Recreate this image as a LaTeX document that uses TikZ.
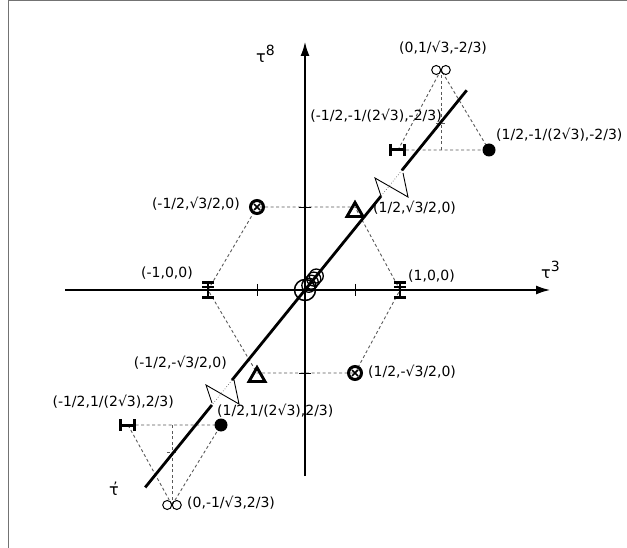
\documentclass[tikz,border=0pt]{standalone}
\usepackage{fontspec}
\setmainfont{DejaVu Sans}
\usetikzlibrary{arrows.meta}
\begin{document}
\begin{tikzpicture}[x=1pt,y=-1pt,
  lab/.style={font=\fontsize{14}{16}\selectfont, inner sep=0pt},
  taulab/.style={font=\fontsize{16}{18}\selectfont, inner sep=0pt},
  guide/.style={draw=black!65, dash pattern=on 3pt off 2.5pt, line width=0.9pt},
  axisline/.style={line width=2.6pt, -{Latex[length=15pt,width=9pt]}},
  tauline/.style={line width=2.8pt},
  thinline/.style={line width=0.9pt},
  ibv/.pic={\draw[line width=2.8pt] (0,-9)--(0,9) (-6,-7.5)--(6,-7.5) (-6,-3)--(6,-3) (-6,7.5)--(6,7.5);},
  ibh/.pic={\draw[line width=3pt] (-9,0)--(8,0) (-7.5,-6)--(-7.5,6) (6,-6)--(6,6);},
  infty/.pic={\draw[line width=1pt] (-4.8,0) circle (4.5) (4.8,0) circle (4.5);},
  bdot/.pic={\fill (0,0) circle (6.5);},
  otri/.pic={\draw[line width=2.9pt, line join=miter] (-8,6.5) -- (8,6.5) -- (0,-7.5) -- cycle;},
  ocross/.pic={\draw[line width=3pt] (0,0) circle (6.5);
               \draw[line width=1.5pt] (-3,-3)--(3,3) (-3,3)--(3,-3);},
  zig/.pic={\draw[thinline] (-10,10)--(-16,-8)--(17,11)--(12,-13);}
]
\useasboundingbox (0,0) rectangle (627,548);
% frame
\draw[black!55, line width=1pt] (8,548) -- (8,0.5) -- (627,0.5);

% coordinates
\coordinate (O) at (305,290);
\coordinate (A1) at (400,290);   % (1,0,0)
\coordinate (Am1) at (208,290);  % (-1,0,0)
\coordinate (TR) at (355,207);   % (1/2,sqrt3/2,0)
\coordinate (TL) at (257,207);   % (-1/2,sqrt3/2,0)
\coordinate (BR) at (355,373);   % (1/2,-sqrt3/2,0)
\coordinate (BL) at (257,373);   % (-1/2,-sqrt3/2,0)
\coordinate (UI) at (441,70);    % upper infinity
\coordinate (UH) at (398,150);
\coordinate (UD) at (489,150);
\coordinate (UM) at (441,150);
\coordinate (UC) at (441,123);
\coordinate (LI) at (172,505);
\coordinate (LH) at (128,425);
\coordinate (LD) at (221,425);
\coordinate (LM) at (172,425);
\coordinate (LC) at (172,452);

% hexagon guides
\draw[guide] (Am1) -- (TL) -- (TR) -- (A1) -- (BR) -- (BL) -- cycle;
% upper triangle guides
\draw[guide] (UI) -- (UH) -- (UD) -- cycle;
\draw[guide] (UI) -- (UM);
\draw[guide] ([xshift=-5pt]UC) -- ([xshift=5pt]UC);
% lower triangle guides
\draw[guide] (LI) -- (LH) -- (LD) -- cycle;
\draw[guide] (LI) -- (LM);
\draw[guide] ([xshift=-5pt]LC) -- ([xshift=5pt]LC);

% axes
\coordinate (X0) at (65,290);
\coordinate (X1) at (551,290);
\coordinate (Y0) at (305,476);
\coordinate (Y1) at (305,41);
\draw[axisline] (X0) -- (X1);
\draw[axisline] (Y0) -- (Y1);
% ticks
\draw[thinline] (257,284) -- (257,296);
\draw[thinline] (355,284) -- (355,296);
\draw[thinline] (299,207) -- (311,207);
\draw[thinline] (299,373) -- (311,373);

% tau' line with breaks
\coordinate (T1) at (466.7,90.3);
\coordinate (T2) at (401.9,170.3);
\coordinate (T3) at (381.1,196.0);
\coordinate (T4) at (232.0,380.1);
\coordinate (T5) at (211.9,405.0);
\coordinate (T6) at (145.2,487.4);
\draw[tauline] (T1) -- (T2);
\draw[tauline] (T3) -- (T4);
\draw[tauline] (T5) -- (T6);
\draw[black!60, line width=0.7pt, dotted] (T2) -- (T3);
\draw[black!60, line width=0.7pt, dotted] (T4) -- (T5);
\pic at (391,186) {zig};
\pic at (222,393) {zig};

% origin circles
\draw[line width=1.5pt] (O) circle (10.5);
\foreach \p in {(308.8,285.3),(311.3,282.2),(313.8,279.1),(316.3,276.0)}
  \draw[line width=1.3pt] \p circle (7);

% markers
\pic at (A1) {ibv};
\pic at (Am1) {ibv};
\pic at (355,210) {otri};
\pic at (257,375) {otri};
\pic at (TL) {ocross};
\pic at (BR) {ocross};
\pic at (UI) {infty};
\pic at (LI) {infty};
\pic at (UH) {ibh};
\pic at (LH) {ibh};
\pic at (UD) {bdot};
\pic at (LD) {bdot};

% axis labels
\node[taulab, anchor=base west] (t8) at (256,63) {τ\raisebox{7pt}{\fontsize{14}{16}\selectfont 8}};
\node[taulab, anchor=base west] (t3) at (541,279) {τ\raisebox{7pt}{\fontsize{14}{16}\selectfont 3}};
\node[taulab, anchor=base west] (tp) at (109,495) {τ\kern-5.5pt\raisebox{4pt}{\fontsize{13}{15}\selectfont\char"0027}};

% point labels
\node[lab, anchor=base west] (l1) at (399,53) {(0,1/√3,-2/3)};
\node[lab, anchor=base east] (l2) at (442,121) {(-1/2,-1/(2√3),-2/3)};
\node[lab, anchor=base west] (l3) at (496,140) {(1/2,-1/(2√3),-2/3)};
\node[lab, anchor=base east] (l4) at (240,209) {(-1/2,√3/2,0)};
\node[lab, anchor=base west] (l5) at (373,213) {(1/2,√3/2,0)};
\node[lab, anchor=base east] (l6) at (193,278) {(-1,0,0)};
\node[lab, anchor=base west] (l7) at (408,281) {(1,0,0)};
\node[lab, anchor=base east] (l8) at (227,367) {(-1/2,-√3/2,0)};
\node[lab, anchor=base west] (l9) at (368,377) {(1/2,-√3/2,0)};
\node[lab, anchor=base east] (l10) at (174,406) {(-1/2,1/(2√3),2/3)};
\node[lab, anchor=base west] (l11) at (217,415) {(1/2,1/(2√3),2/3)};
\node[lab, anchor=base west] (l12) at (187,507) {(0,-1/√3,2/3)};
\end{tikzpicture}
\end{document}
